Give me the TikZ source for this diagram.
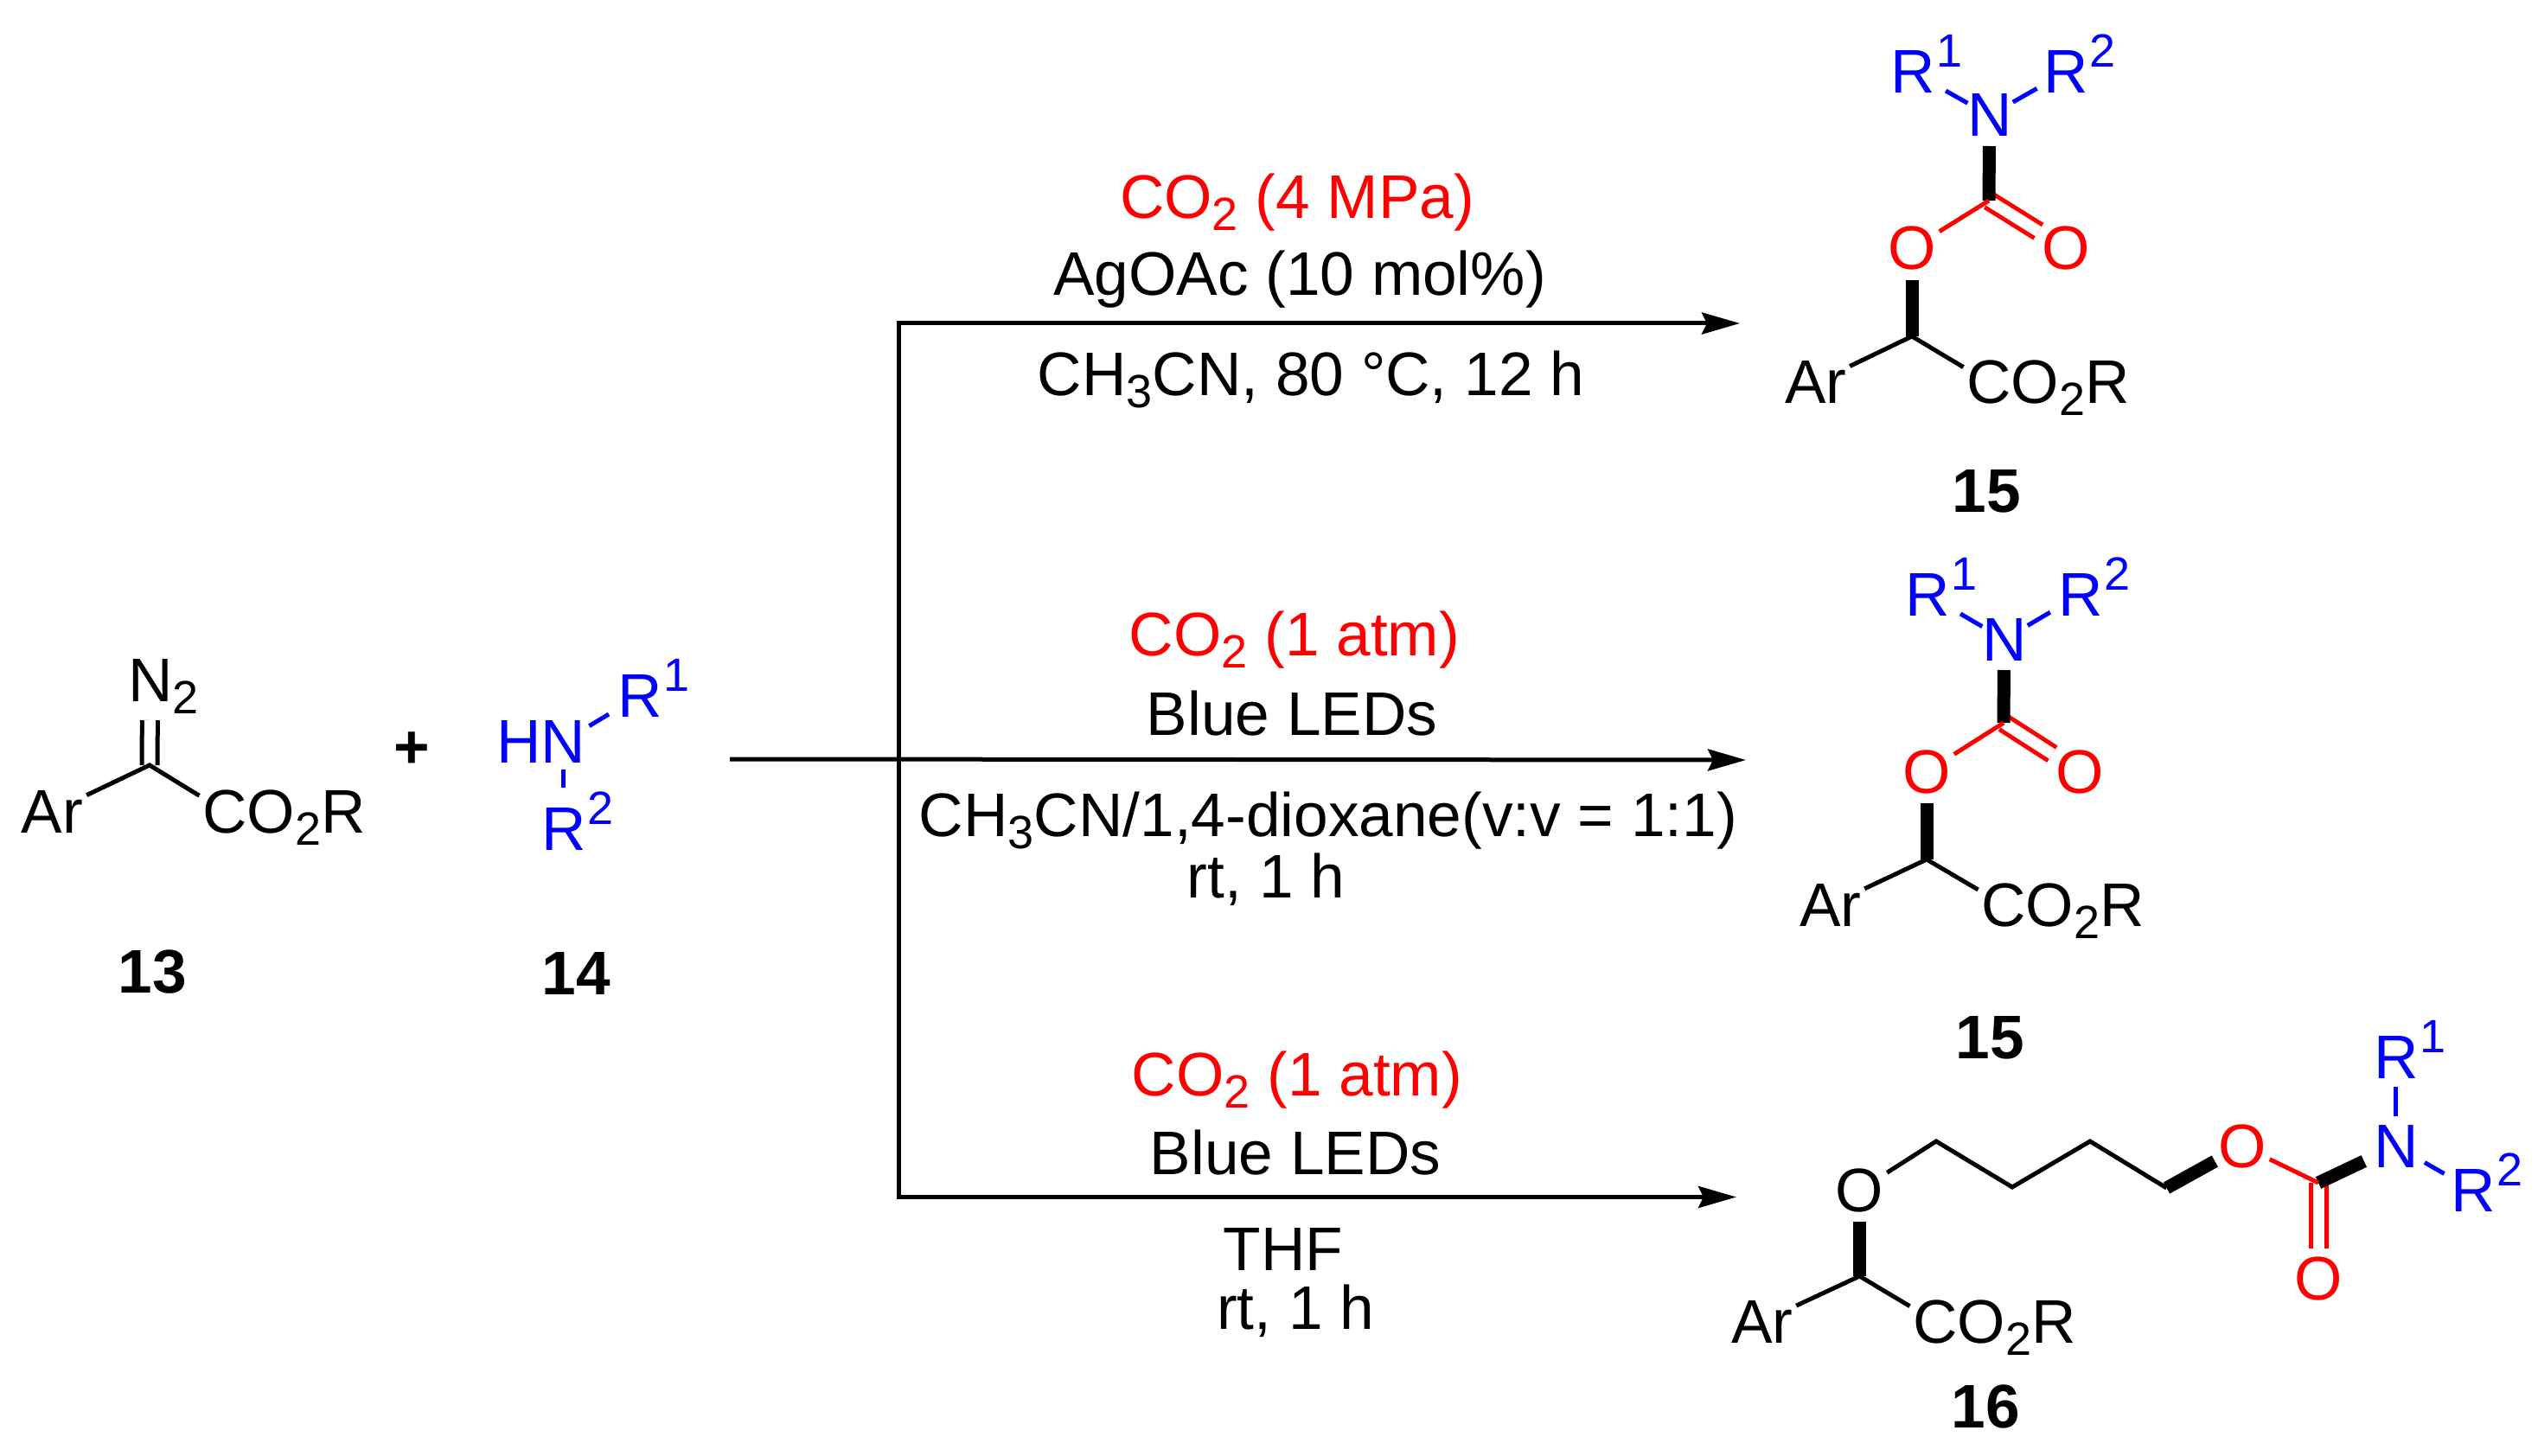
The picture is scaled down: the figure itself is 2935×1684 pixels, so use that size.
\documentclass[tikz,border=0pt]{standalone}
\usepackage{xcolor}
\usepackage{fontspec}
\setmainfont{Liberation Sans}
\usetikzlibrary{arrows,arrows.meta,calc,positioning}
\definecolor{nblue}{RGB}{0,0,255}
\definecolor{ored}{RGB}{255,0,0}
\newcommand{\smallnum}{\fontsize{27}{27}\selectfont}
\newcommand{\supn}[1]{\smash{\rlap{\hspace{1pt}\raisebox{15pt}{\smallnum #1}}}}
\newcommand{\subn}[1]{\smash{\raisebox{-7pt}{\smallnum #1}}}
\newcommand{\coor}{C\rlap{O\subn{2}R}}
\tikzset{
    >={Stealth[length=22pt, width=12.5pt, inset=3pt]},
    atom/.style={inner sep=0pt, outer sep=2pt, anchor=base west, font=\fontsize{35.6}{36}\selectfont},
    oatom/.style={atom, anchor=base, text=ored},
    natom/.style={atom, text=nblue},
    tag/.style={atom, anchor=base, font=\fontsize{35.6}{36}\selectfont\bfseries},
    cond/.style={inner sep=0pt, anchor=base, font=\fontsize{35.6}{36}\selectfont},
    bond/.style={line width=2.5pt},
    nbond/.style={bond, draw=nblue},
    obond/.style={bond, draw=ored},
    dbond/.style={line width=2.5pt, double=white, double distance=6.5pt},
    bold/.style={line width=7.5pt},
    gap/.style={shorten <=3.5pt},
}
\tikzstyle{arrow} = [line width=2.5pt, ->]

\begin{document}
\begin{tikzpicture}[x=0.5pt, y=-0.5pt]
    \useasboundingbox (0,0) rectangle (2935,1684);

    % reactants
    \node[atom] (ntwo) at (144,811) {N\rlap{\subn{2}}};
    \node[atom] (ar0) at (21,963) {Ar};
    \node[atom] (co0) at (230.5,963) {\coor};
    \coordinate (c0) at (173,885);
    \draw[dbond, shorten <=9pt] (ntwo) -- (c0);
    \draw[bond] (ar0) -- (c0) -- (co0);
    \node[tag] (t13) at (176.5,1148) {13};
    \node[tag] (plus) at (476,888) {+};
    \node[natom] (nh) at (622,882) {\llap{H}N};
    \node[natom] (ra0) at (710,829) {R\supn{1}};
    \node[natom] (rb0) at (622,983) {R\supn{2}};
    \path[nbond] (nh) edge[shorten >=3.5pt] (ra0)
                 (nh) edge[shorten <=2pt, shorten >=9.5pt] (rb0);
    \node[tag] (t14) at (666.5,1150) {14};

    % arrows
    \coordinate (st) at (844,878);
    \coordinate (jt) at (1039.5,374);
    \coordinate (jb) at (1039.5,1384.5);
    \coordinate (et) at (2012,374);
    \coordinate (em) at (2019,879);
    \coordinate (eb) at (2008,1384.5);
    \draw[arrow] (st) -- (em);
    \draw[arrow, <->] (et) -- (jt) -- (jb) -- (eb);

    % conditions
    \node[cond, text=ored] (g1) at (1500,253) {CO\subn{2} (4 MPa)};
    \node[cond] (g2) at (1503,342) {AgOAc (10 mol\%)};
    \node[cond] (g3) at (1516,458) {CH\subn{3}CN, 80 °C, 12 h};
    \node[cond, text=ored] (h1) at (1497,758) {CO\subn{2} (1 atm)};
    \node[cond] (h2) at (1494,850) {Blue LEDs};
    \node[cond] (h3) at (1536,967) {CH\subn{3}CN/1,4-dioxane(v:v = 1:1)};
    \node[cond] (h4) at (1464,1038) {rt, 1 h};
    \node[cond, text=ored] (i1) at (1500,1267) {CO\subn{2} (1 atm)};
    \node[cond] (i2) at (1498,1358) {Blue LEDs};
    \node[cond] (i3) at (1484,1469) {THF};
    \node[cond] (i4) at (1498,1537) {rt, 1 h};

    % top product
    \node[natom] (ra1) at (2182,108) {R\supn{1}};
    \node[natom] (n1) at (2271,158) {N};
    \node[natom] (rb1) at (2359,108) {R\supn{2}};
    \node[oatom] (ol1) at (2211,312) {O};
    \node[oatom] (or1) at (2389,312) {O};
    \node[atom] (ar1) at (2060,467) {Ar};
    \node[atom] (co1) at (2270.5,467) {\coor};
    \coordinate (c1) at (2300,232);
    \coordinate (ch1) at (2211,389);
    \path[nbond] (n1) edge[shorten <=-2.5pt, shorten >=5pt] (ra1)
                 (n1) edge[shorten <=-1.5pt, shorten >=2pt] (rb1);
    \draw[dbond, draw=ored] (c1) -- (or1);
    \draw[bold, gap] (n1) -- (c1);
    \draw[obond] (c1) -- (ol1);
    \draw[bold, gap] (ol1) -- (ch1);
    \draw[bond] (ar1) -- (ch1) -- (co1);
    \node[tag] (t15a) at (2297,593) {15};

    % middle product
    \node[natom] (ra2) at (2199,712) {R\supn{1}};
    \node[natom] (n2) at (2288,764) {N};
    \node[natom] (rb2) at (2376,712) {R\supn{2}};
    \node[oatom] (ol2) at (2228,917) {O};
    \node[oatom] (or2) at (2405,917) {O};
    \node[atom] (ar2) at (2077,1071) {Ar};
    \node[atom] (co2) at (2287.5,1071) {\coor};
    \coordinate (c2) at (2317,836);
    \coordinate (ch2) at (2228,994);
    \path[nbond] (n2) edge[shorten <=-2.5pt, shorten >=5pt] (ra2)
                 (n2) edge[shorten <=-1.5pt, shorten >=3pt] (rb2);
    \draw[dbond, draw=ored] (c2) -- (or2);
    \draw[bold, gap] (n2) -- (c2);
    \draw[obond] (c2) -- (ol2);
    \draw[bold, gap] (ol2) -- (ch2);
    \draw[bond] (ar2) -- (ch2) -- (co2);
    \node[tag] (t15b) at (2301.5,1224) {15};

    % bottom product
    \node[atom, anchor=base] (oa) at (2150.5,1401) {O};
    \node[oatom] (ob) at (2593,1350) {O};
    \node[oatom] (oc) at (2681,1503) {O};
    \node[natom] (n3) at (2741,1350) {N};
    \node[natom] (ra3) at (2741,1247) {R\supn{1}};
    \node[natom] (rb3) at (2830,1401) {R\supn{2}};
    \node[atom] (ar3) at (1998,1553) {Ar};
    \node[atom] (co3) at (2208.5,1553) {\coor};
    \coordinate (ch3) at (2150.5,1476);
    \coordinate (v1) at (2239,1320);
    \coordinate (v2) at (2327,1373);
    \coordinate (v3) at (2417,1320);
    \coordinate (v4) at (2505.5,1374);
    \coordinate (c3) at (2681,1368);
    \draw[bold, gap] (oa) -- (ch3);
    \draw[bond] (ar3) -- (ch3) -- (co3);
    \draw[bond] (oa) -- (v1) -- (v2) -- (v3) -- (v4);
    \draw[bold] (v4) -- (ob);
    \draw[dbond, draw=ored, shorten >=2.5pt] (c3) -- (oc);
    \draw[bold, shorten >=4pt] (c3) -- (n3);
    \draw[obond] (c3) -- (ob);
    \path[nbond] (n3) edge[shorten <=3pt, shorten >=3pt] (ra3)
                 (n3) edge[shorten <=2pt, shorten >=2pt] (rb3);
    \node[tag] (t16) at (2296,1651) {16};
\end{tikzpicture}
\end{document}
